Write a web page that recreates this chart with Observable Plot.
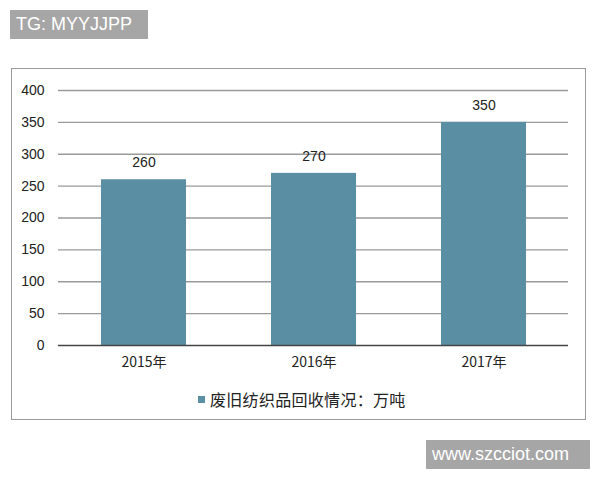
<!DOCTYPE html>
<html><head><meta charset="utf-8">
<script src="https://cdn.jsdelivr.net/npm/d3@7"></script>
<script src="https://cdn.jsdelivr.net/npm/@observablehq/plot@0.6"></script>
<style>
body{margin:0;background:#fff;}
#wrap{position:relative;width:600px;height:480px;font-family:"Liberation Sans","Noto Sans CJK SC",sans-serif;}
#frame{position:absolute;left:11px;top:68px;width:575px;height:352px;border:1px solid #9a9a9a;box-sizing:border-box;}
.wm{position:absolute;background:#a6a6a6;color:#fff;font-size:18px;line-height:29px;padding:0 6px;box-sizing:border-box;}
#legend{position:absolute;left:198px;top:387px;font-size:16px;color:#222;font-family:"Noto Sans CJK SC",sans-serif;display:flex;align-items:center;letter-spacing:0.3px;}
#legend span.sw{display:inline-block;width:7px;height:7px;background:#5a8ea3;margin-right:5px;}
#chart{position:absolute;left:0;top:0;}
</style></head>
<body><div id="wrap">
<div id="frame"></div>
<div class="wm" style="left:10px;top:10px;width:138px;height:29px;">TG: MYYJJPP</div>
<div class="wm" style="left:426px;top:440px;width:164px;height:29px;">www.szcciot.com</div>
<div id="legend"><span class="sw"></span><span id="ltext"></span></div>
<div id="chart"></div>
</div>
<script>
const years = ["2015年","2016年","2017年"];
const values = [260,270,350];
const yTicks = [0,50,100,150,200,250,300,350,400];
const seriesName = "废旧纺织品回收情况：万吨";

const data = years.map((y,i)=>({year:y,value:values[i]}));
document.getElementById("ltext").textContent = seriesName;

const chart = Plot.plot({
  width:600, height:480,
  marginLeft:58, marginRight:32, marginTop:90, marginBottom:135,
  style:{fontFamily:'"Liberation Sans","Noto Sans CJK SC",sans-serif', fontSize:"14px", color:"#222", background:"transparent"},
  x:{domain:years, paddingInner:0.5, paddingOuter:0.25, label:null, tickSize:0, tickPadding:12},
  y:{domain:[0,400], ticks:yTicks, label:null, tickSize:0, tickPadding:13},
  marks:[
    Plot.gridY(yTicks.filter(d=>d>0), {stroke:"#9a9a9a", strokeOpacity:1, strokeWidth:1.3}),
    Plot.barY(data,{x:"year", y:"value", fill:"#5a8ea3"}),
    Plot.ruleY([0],{stroke:"#444", strokeWidth:1.3}),
    Plot.text(data,{x:"year", y:"value", text:d=>String(d.value), dy:-17, fontSize:14, fill:"#222"}),
    Plot.axisY({ticks:yTicks, tickSize:0, tickPadding:14, label:null, fontSize:14}),
    Plot.axisX({tickSize:0, tickPadding:12, label:null, fontSize:14, fontFamily:'"Noto Sans CJK SC",sans-serif'})
  ]
});
document.getElementById("chart").appendChild(chart);
</script>
</body></html>
